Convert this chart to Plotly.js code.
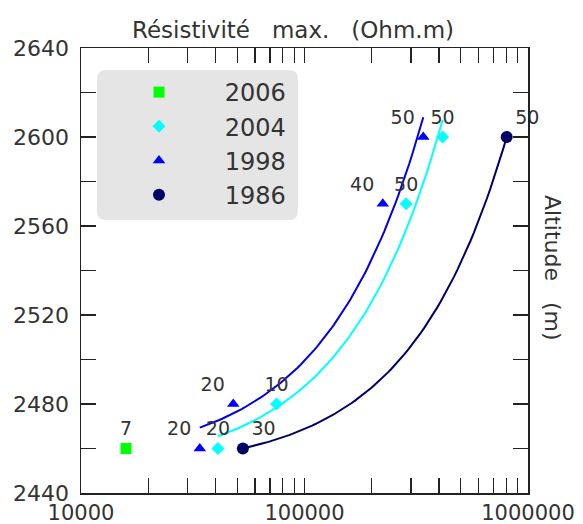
<!DOCTYPE html>
<html>
<head>
<meta charset="utf-8">
<script src="https://cdn.plot.ly/plotly-3.0.1.min.js"></script>
<style>html,body{margin:0;padding:0;background:#fff;}#chart{width:583px;height:524px;}</style>
</head>
<body>
<div id="chart"></div>
<script>
// ---- data ----
const years = ['2006', '2004', '1998', '1986'];

const x2006 = [15900];
const y2006 = [2460];
const lbl2006 = ['7'];

const x2004 = [41000, 75000, 285000, 415000];
const y2004 = [2460, 2480, 2570, 2600];
const lbl2004 = ['20', '10', '50', '50'];

const x1998 = [34000, 48000, 224000, 340000];
const y1998 = [2460, 2480, 2570, 2600];
const lbl1998 = ['20', '20', '40', '50'];

const x1986 = [53000, 803000];
const y1986 = [2460, 2600];
const lbl1986 = ['30', '50'];

const xTicks = [10000, 100000, 1000000];
const yTicks = [2440, 2480, 2520, 2560, 2600, 2640];

// ---- styling ----
const FONT = 'DejaVu Sans';
const TXT = '#333333';
const AX = '#222222';
const colors = {'2006': '#00ff00', '2004': '#00ffff', '1998': '#0000ff', '1986': '#000066'};
const lineColors = {'2004': '#00ffff', '1998': '#0000e6', '1986': '#000066'};
const symbols = {'2006': 'square', '2004': 'diamond', '1998': 'triangle-up', '1986': 'circle'};
const sizes = {'2006': 11, '2004': 10, '1998': 11, '1986': 12};
const labelPos = {'2006': 'top center', '2004': 'top center', '1998': 'top left', '1986': 'top right'};

const series = {
  '2006': {x: x2006, y: y2006, t: lbl2006},
  '2004': {x: x2004, y: y2004, t: lbl2004},
  '1998': {x: x1998, y: y1998, t: lbl1998},
  '1986': {x: x1986, y: y1986, t: lbl1986}
};

// least-squares trend line (y on x), drawn between min and max x of each series
function trend(xs, ys) {
  const n = xs.length;
  const mx = xs.reduce((a, b) => a + b, 0) / n;
  const my = ys.reduce((a, b) => a + b, 0) / n;
  let sxy = 0, sxx = 0;
  for (let i = 0; i < n; i++) { sxy += (xs[i] - mx) * (ys[i] - my); sxx += (xs[i] - mx) * (xs[i] - mx); }
  const b = sxy / sxx, a = my - b * mx;
  const lo = Math.log10(Math.min(...xs)), hi = Math.log10(Math.max(...xs));
  const tx = [], ty = [];
  const N = 80;
  for (let i = 0; i <= N; i++) {
    const xv = Math.pow(10, lo + (hi - lo) * i / N);
    tx.push(xv); ty.push(a + b * xv);
  }
  return {x: tx, y: ty};
}

const data = [];
// trend lines
['2004', '1998', '1986'].forEach(k => {
  const t = trend(series[k].x, series[k].y);
  data.push({x: t.x, y: t.y, mode: 'lines', type: 'scatter', showlegend: false, hoverinfo: 'skip',
    line: {color: lineColors[k], width: 2}});
});
// point labels (invisible spacer markers set the label offset)
years.forEach(k => {
  data.push({x: series[k].x, y: series[k].y, mode: 'markers+text', type: 'scatter', showlegend: false,
    text: series[k].t, textposition: labelPos[k], hoverinfo: 'skip', cliponaxis: false,
    marker: {size: 12, color: 'rgba(0,0,0,0)', line: {width: 0}},
    textfont: {family: FONT, size: 19, color: TXT}});
});
// markers (legend entries)
years.forEach(k => {
  data.push({x: series[k].x, y: series[k].y, mode: 'markers', type: 'scatter', cliponaxis: false,
    name: '\u00a0\u00a0\u00a0\u00a0\u00a0\u00a0' + k,
    marker: {symbol: symbols[k], size: sizes[k], color: colors[k], line: {width: 0}}});
});

// rounded legend background (paper coords)
const L = 81, R = 528, T = 48, B = 493;
function px(p) { return (p - L) / (R - L); }
function py(p) { return (B - p) / (B - T); }
const bx0 = 97, bx1 = 298, by0 = 70, by1 = 220, rad = 9;
const path = 'M ' + px(bx0 + rad) + ',' + py(by0) +
  ' L ' + px(bx1 - rad) + ',' + py(by0) +
  ' Q ' + px(bx1) + ',' + py(by0) + ' ' + px(bx1) + ',' + py(by0 + rad) +
  ' L ' + px(bx1) + ',' + py(by1 - rad) +
  ' Q ' + px(bx1) + ',' + py(by1) + ' ' + px(bx1 - rad) + ',' + py(by1) +
  ' L ' + px(bx0 + rad) + ',' + py(by1) +
  ' Q ' + px(bx0) + ',' + py(by1) + ' ' + px(bx0) + ',' + py(by1 - rad) +
  ' L ' + px(bx0) + ',' + py(by0 + rad) +
  ' Q ' + px(bx0) + ',' + py(by0) + ' ' + px(bx0 + rad) + ',' + py(by0) + ' Z';

const layout = {
  width: 583, height: 524,
  margin: {l: L, r: 583 - R, t: T, b: 524 - B, pad: 0},
  paper_bgcolor: '#ffffff', plot_bgcolor: '#ffffff',
  font: {family: FONT, color: TXT},
  title: {text: 'Résistivité\u00a0\u00a0 max.\u00a0\u00a0 (Ohm.m)', font: {family: FONT, size: 23, color: TXT},
    xref: 'paper', x: px(293), xanchor: 'center', yref: 'container', y: 1 - 30 / 524, yanchor: 'middle'},
  xaxis: {
    type: 'log', range: [4, 6], tickmode: 'array', tickvals: xTicks, ticktext: xTicks.map(String),
    ticks: 'inside', ticklen: 15, tickwidth: 1.3, tickcolor: AX,
    showline: true, linecolor: AX, linewidth: 1.5, mirror: 'ticks',
    showgrid: false, zeroline: false, ticklabelstandoff: 0,
    tickfont: {family: FONT, size: 21, color: TXT},
    minor: {ticks: 'inside', ticklen: 15, tickwidth: 1.3, tickcolor: AX, dtick: 'D1', showgrid: false}
  },
  yaxis: {
    range: [2440, 2640], tickmode: 'array', tickvals: yTicks, ticktext: yTicks.map(String),
    ticks: 'inside', ticklen: 15, tickwidth: 1.3, tickcolor: AX,
    showline: true, linecolor: AX, linewidth: 1.5, mirror: 'ticks',
    showgrid: false, zeroline: false, ticklabelstandoff: 6,
    tickfont: {family: FONT, size: 22, color: TXT},
    minor: {ticks: 'inside', ticklen: 15, tickwidth: 1.3, tickcolor: AX, dtick: 20, tick0: 2440, showgrid: false}
  },
  showlegend: true,
  legend: {x: px(139), y: py(70), xanchor: 'left', yanchor: 'top', bgcolor: 'rgba(0,0,0,0)',
    borderwidth: 0, font: {family: FONT, size: 24, color: TXT}, traceorder: 'normal'},
  shapes: [{type: 'path', xref: 'paper', yref: 'paper', path: path, fillcolor: '#e5e5e5',
    line: {width: 0}, layer: 'below'}],
  annotations: [{text: 'Altitude\u00a0\u00a0 (m)', textangle: 90, xref: 'paper', yref: 'paper',
    x: px(553), y: py(268), xanchor: 'center', yanchor: 'middle', showarrow: false,
    font: {family: FONT, size: 22, color: TXT}}]
};

Plotly.newPlot('chart', data, layout, {displayModeBar: false, staticPlot: true});
</script>
</body>
</html>
